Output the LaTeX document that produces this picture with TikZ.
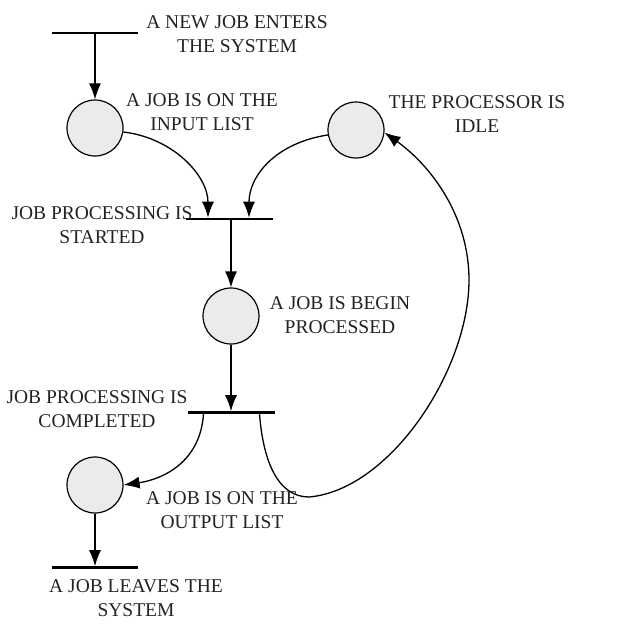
\documentclass[tikz,border=0pt]{standalone}
\usepackage{fontspec}
\setmainfont{Liberation Serif}
\usetikzlibrary{arrows.meta,calc}
\definecolor{placefill}{HTML}{EBEBEB}
\definecolor{txt}{HTML}{222222}
\begin{document}
\begin{tikzpicture}[x=1pt,y=-1pt,
  place/.style={circle,draw,line width=1.2pt,fill=placefill,minimum size=56pt,inner sep=0pt},
  trans/.style={rectangle,fill=black,minimum width=86pt,minimum height=2.2pt,inner sep=0pt},
  lbl/.style={align=center,text=txt,font=\fontsize{19.5}{24}\selectfont,inner sep=0pt},
  arr/.style={line width=1.3pt,-{Latex[length=16pt,width=12pt]}},
  conn/.style={line width=1.3pt}]
\useasboundingbox (0,0) rectangle (633,629);
% transitions
\node[trans] (t1) at (95,33) {};
\node[trans,minimum width=87pt] (t2) at (229,219) {};
\node[trans,minimum width=87pt] (t3) at (231.5,412.5) {};
\node[trans] (t4) at (95,567.5) {};
% places
\node[place] (p1) at (95,128) {};
\node[place] (p2) at (356,130) {};
\node[place] (p3) at (231,316) {};
\node[place] (p4) at (95,485) {};
% labels
\node[lbl] (l1) at (237,34) {A NEW JOB ENTERS\\THE SYSTEM};
\node[lbl] (l2) at (202,112.5) {A JOB IS ON THE\\INPUT LIST};
\node[lbl] (l3) at (477,114.5) {THE PROCESSOR IS\\IDLE};
\node[lbl] (l4) at (102,225) {JOB PROCESSING IS\\STARTED};
\node[lbl] (l5) at (340,315) {A JOB IS BEGIN\\PROCESSED};
\node[lbl] (l6) at (97,409) {JOB PROCESSING IS\\COMPLETED};
\node[lbl] (l7) at (222,510) {A JOB IS ON THE\\OUTPUT LIST};
\node[lbl] (l8) at (136,598.5) {A JOB LEAVES THE\\SYSTEM};
% connectors
\draw[arr] (t1.center) -- (p1);
\draw[arr] (p1.-8) .. controls +(50,6) and +(0,-42) .. ([xshift=-21pt]t2.north);
\draw[arr] (p2.190) .. controls +(-52,8) and +(0,-42) .. ([xshift=20pt]t2.north);
\draw[arr] (t2.south -| p3) -- (p3);
\draw[arr] (p3) -- (t3.north -| p3);
\draw[arr] ([xshift=-28pt]t3.south) .. controls +(-3,47) and +(41,-6) .. (p4.east);
\draw[arr] ([xshift=28pt]t3.south) .. controls +(4,52) and (280,497) .. (309,497)
  .. controls (390,490) and (469,370) .. (469,280)
  .. controls (469,215) and (430,165) .. (p2.-5);
\draw[arr] (p4) -- (t4.north -| p4);
\end{tikzpicture}
\end{document}
